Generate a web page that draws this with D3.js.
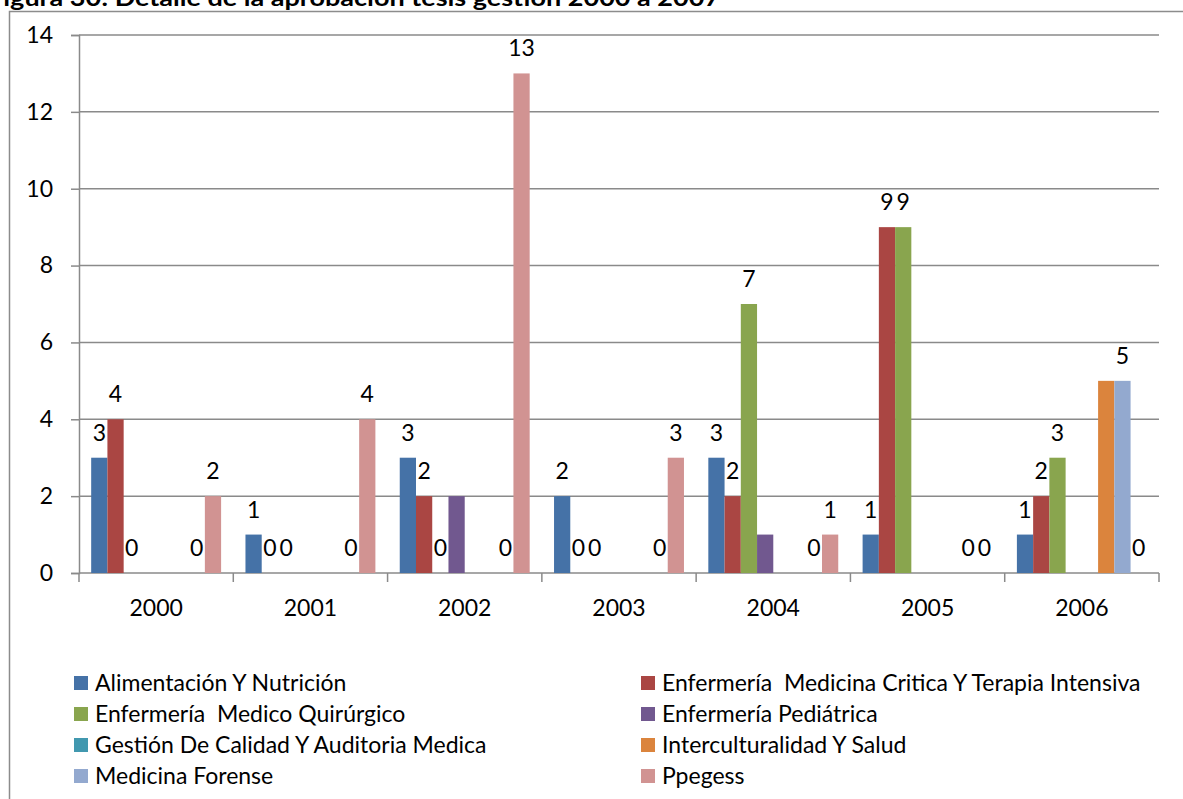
<!DOCTYPE html>
<html>
<head>
<meta charset="utf-8">
<script src="https://cdn.jsdelivr.net/npm/d3@7"></script>
<style>
  html, body { margin: 0; padding: 0; background: #fff; overflow: hidden; }
  text { font-family: Lato, "Open Sans", sans-serif; fill: #000; white-space: pre; }
</style>
</head>
<body>
<svg id="chart" width="1183" height="799"></svg>
<script>
// Years on the category axis
const years = ["2000", "2001", "2002", "2003", "2004", "2005", "2006"];

// Programme names (series), in legend order
const seriesNames = [
  "Alimentación Y Nutrición",
  "Enfermería  Medicina Critica Y Terapia Intensiva",
  "Enfermería  Medico Quirúrgico",
  "Enfermería Pediátrica",
  "Gestión De Calidad Y Auditoria Medica",
  "Interculturalidad Y Salud",
  "Medicina Forense",
  "Ppegess"
];

const seriesColors = ["#4572A7", "#AA4643", "#89A54E", "#71588F", "#4198AF", "#DB843D", "#93A9CF", "#D19392"];

// Approved theses per year (null = no entry)
const alimentacion   = [3, 1, 3, 2, 3, 1, 1];
const enfCritica     = [4, 0, 2, 0, 2, 9, 2];
const enfQuirurgico  = [0, 0, 0, 0, 7, 9, 3];
const enfPediatrica  = [null, null, 2, null, 1, null, null];
const gestionCalidad = [null, null, null, null, null, null, null];
const intercultural  = [null, null, null, null, null, null, 5];
const medForense     = [0, 0, 0, 0, 0, 0, 5];
const ppegess        = [2, 4, 13, 3, 1, 0, 0];

// Which series carry value labels
const showLabels = [true, true, true, false, false, false, true, true];

const yTicks = [0, 2, 4, 6, 8, 10, 12, 14];

const seriesValues = [alimentacion, enfCritica, enfQuirurgico, enfPediatrica,
                      gestionCalidad, intercultural, medForense, ppegess];

const svg = d3.select("#chart");

// Caption line above the chart frame
svg.append("text")
  .attr("x", -12).attr("y", 6)
  .attr("textLength", 732).attr("lengthAdjust", "spacingAndGlyphs")
  .style("font-weight", "bold").style("font-size", "23px")
  .text("Figura 30: Detalle de la aprobación tesis gestión 2000 a 2007");

// Chart frame
svg.append("rect")
  .attr("x", 9.5).attr("y", 11.5).attr("width", 1300).attr("height", 900)
  .attr("fill", "none").attr("stroke", "#8c8c8c").attr("stroke-width", 1.5);

const plot = { left: 79, right: 1159, top: 35, bottom: 573 };

const x0 = d3.scaleBand().domain(years).range([plot.left, plot.right]).paddingInner(0).paddingOuter(0);
const x1 = d3.scaleBand().domain(d3.range(seriesNames.length))
  .range([0, x0.bandwidth()]).paddingInner(0).paddingOuter(0.75);
const y = d3.scaleLinear().domain([0, 14]).range([plot.bottom, plot.top]);

const fs = "23px";
const gridColor = "#8a8a8a";

// Horizontal gridlines
svg.append("g").selectAll("line").data(yTicks.filter(t => t > 0)).join("line")
  .attr("x1", plot.left).attr("x2", plot.right)
  .attr("y1", d => y(d)).attr("y2", d => y(d))
  .attr("stroke", gridColor).attr("stroke-width", 1.5);

// Value axis
const yAxis = svg.append("g").attr("transform", `translate(${plot.left},0)`)
  .call(d3.axisLeft(y).tickValues(yTicks).tickSize(8).tickPadding(18).tickFormat(d3.format("d")));
yAxis.select(".domain").attr("stroke", gridColor).attr("stroke-width", 1.5);
yAxis.selectAll(".tick line").attr("stroke", gridColor).attr("stroke-width", 1.5);
yAxis.selectAll(".tick text").style("font-size", fs).style("font-family", "Lato, sans-serif").attr("fill", "#000");

// Category axis with ticks between groups
const xAxis = svg.append("g").attr("transform", `translate(0,${plot.bottom})`);
xAxis.append("line").attr("x1", plot.left).attr("x2", plot.right)
  .attr("stroke", gridColor).attr("stroke-width", 1.5);
const bounds = years.map(yr => x0(yr)).concat([x0(years[years.length - 1]) + x0.bandwidth()]);
xAxis.selectAll(".sep").data(bounds).join("line").attr("class", "sep")
  .attr("x1", d => d).attr("x2", d => d).attr("y1", 0).attr("y2", 9)
  .attr("stroke", gridColor).attr("stroke-width", 1.5);
xAxis.selectAll(".cat").data(years).join("text").attr("class", "cat")
  .attr("x", d => x0(d) + x0.bandwidth() / 2).attr("y", 43)
  .attr("text-anchor", "middle").style("font-size", fs).text(d => d);

// Bars and labels
const cells = [];
seriesValues.forEach((vals, si) => {
  vals.forEach((v, yi) => {
    if (v !== null) cells.push({ si, year: years[yi], v });
  });
});

svg.append("g").selectAll("rect").data(cells.filter(c => c.v > 0)).join("rect")
  .attr("x", c => x0(c.year) + x1(c.si))
  .attr("y", c => y(c.v))
  .attr("width", x1.bandwidth())
  .attr("height", c => y(0) - y(c.v))
  .attr("fill", c => seriesColors[c.si]);

svg.append("g").selectAll("text").data(cells.filter(c => showLabels[c.si])).join("text")
  .attr("x", c => x0(c.year) + x1(c.si) + x1.bandwidth() / 2)
  .attr("y", c => y(c.v) - 17)
  .attr("text-anchor", "middle").style("font-size", fs)
  .text(c => c.v);

// Legend: two columns, row-major order
const legend = svg.append("g");
const colX = [74, 641];
const rowY = [683, 714, 745, 776];
seriesNames.forEach((name, i) => {
  const gx = colX[i % 2], gy = rowY[Math.floor(i / 2)];
  legend.append("rect").attr("x", gx).attr("y", gy - 7).attr("width", 14).attr("height", 14)
    .attr("fill", seriesColors[i]);
  legend.append("text").attr("x", gx + 21).attr("y", gy + 8)
    .style("font-size", fs).text(name);
});
</script>
</body>
</html>
